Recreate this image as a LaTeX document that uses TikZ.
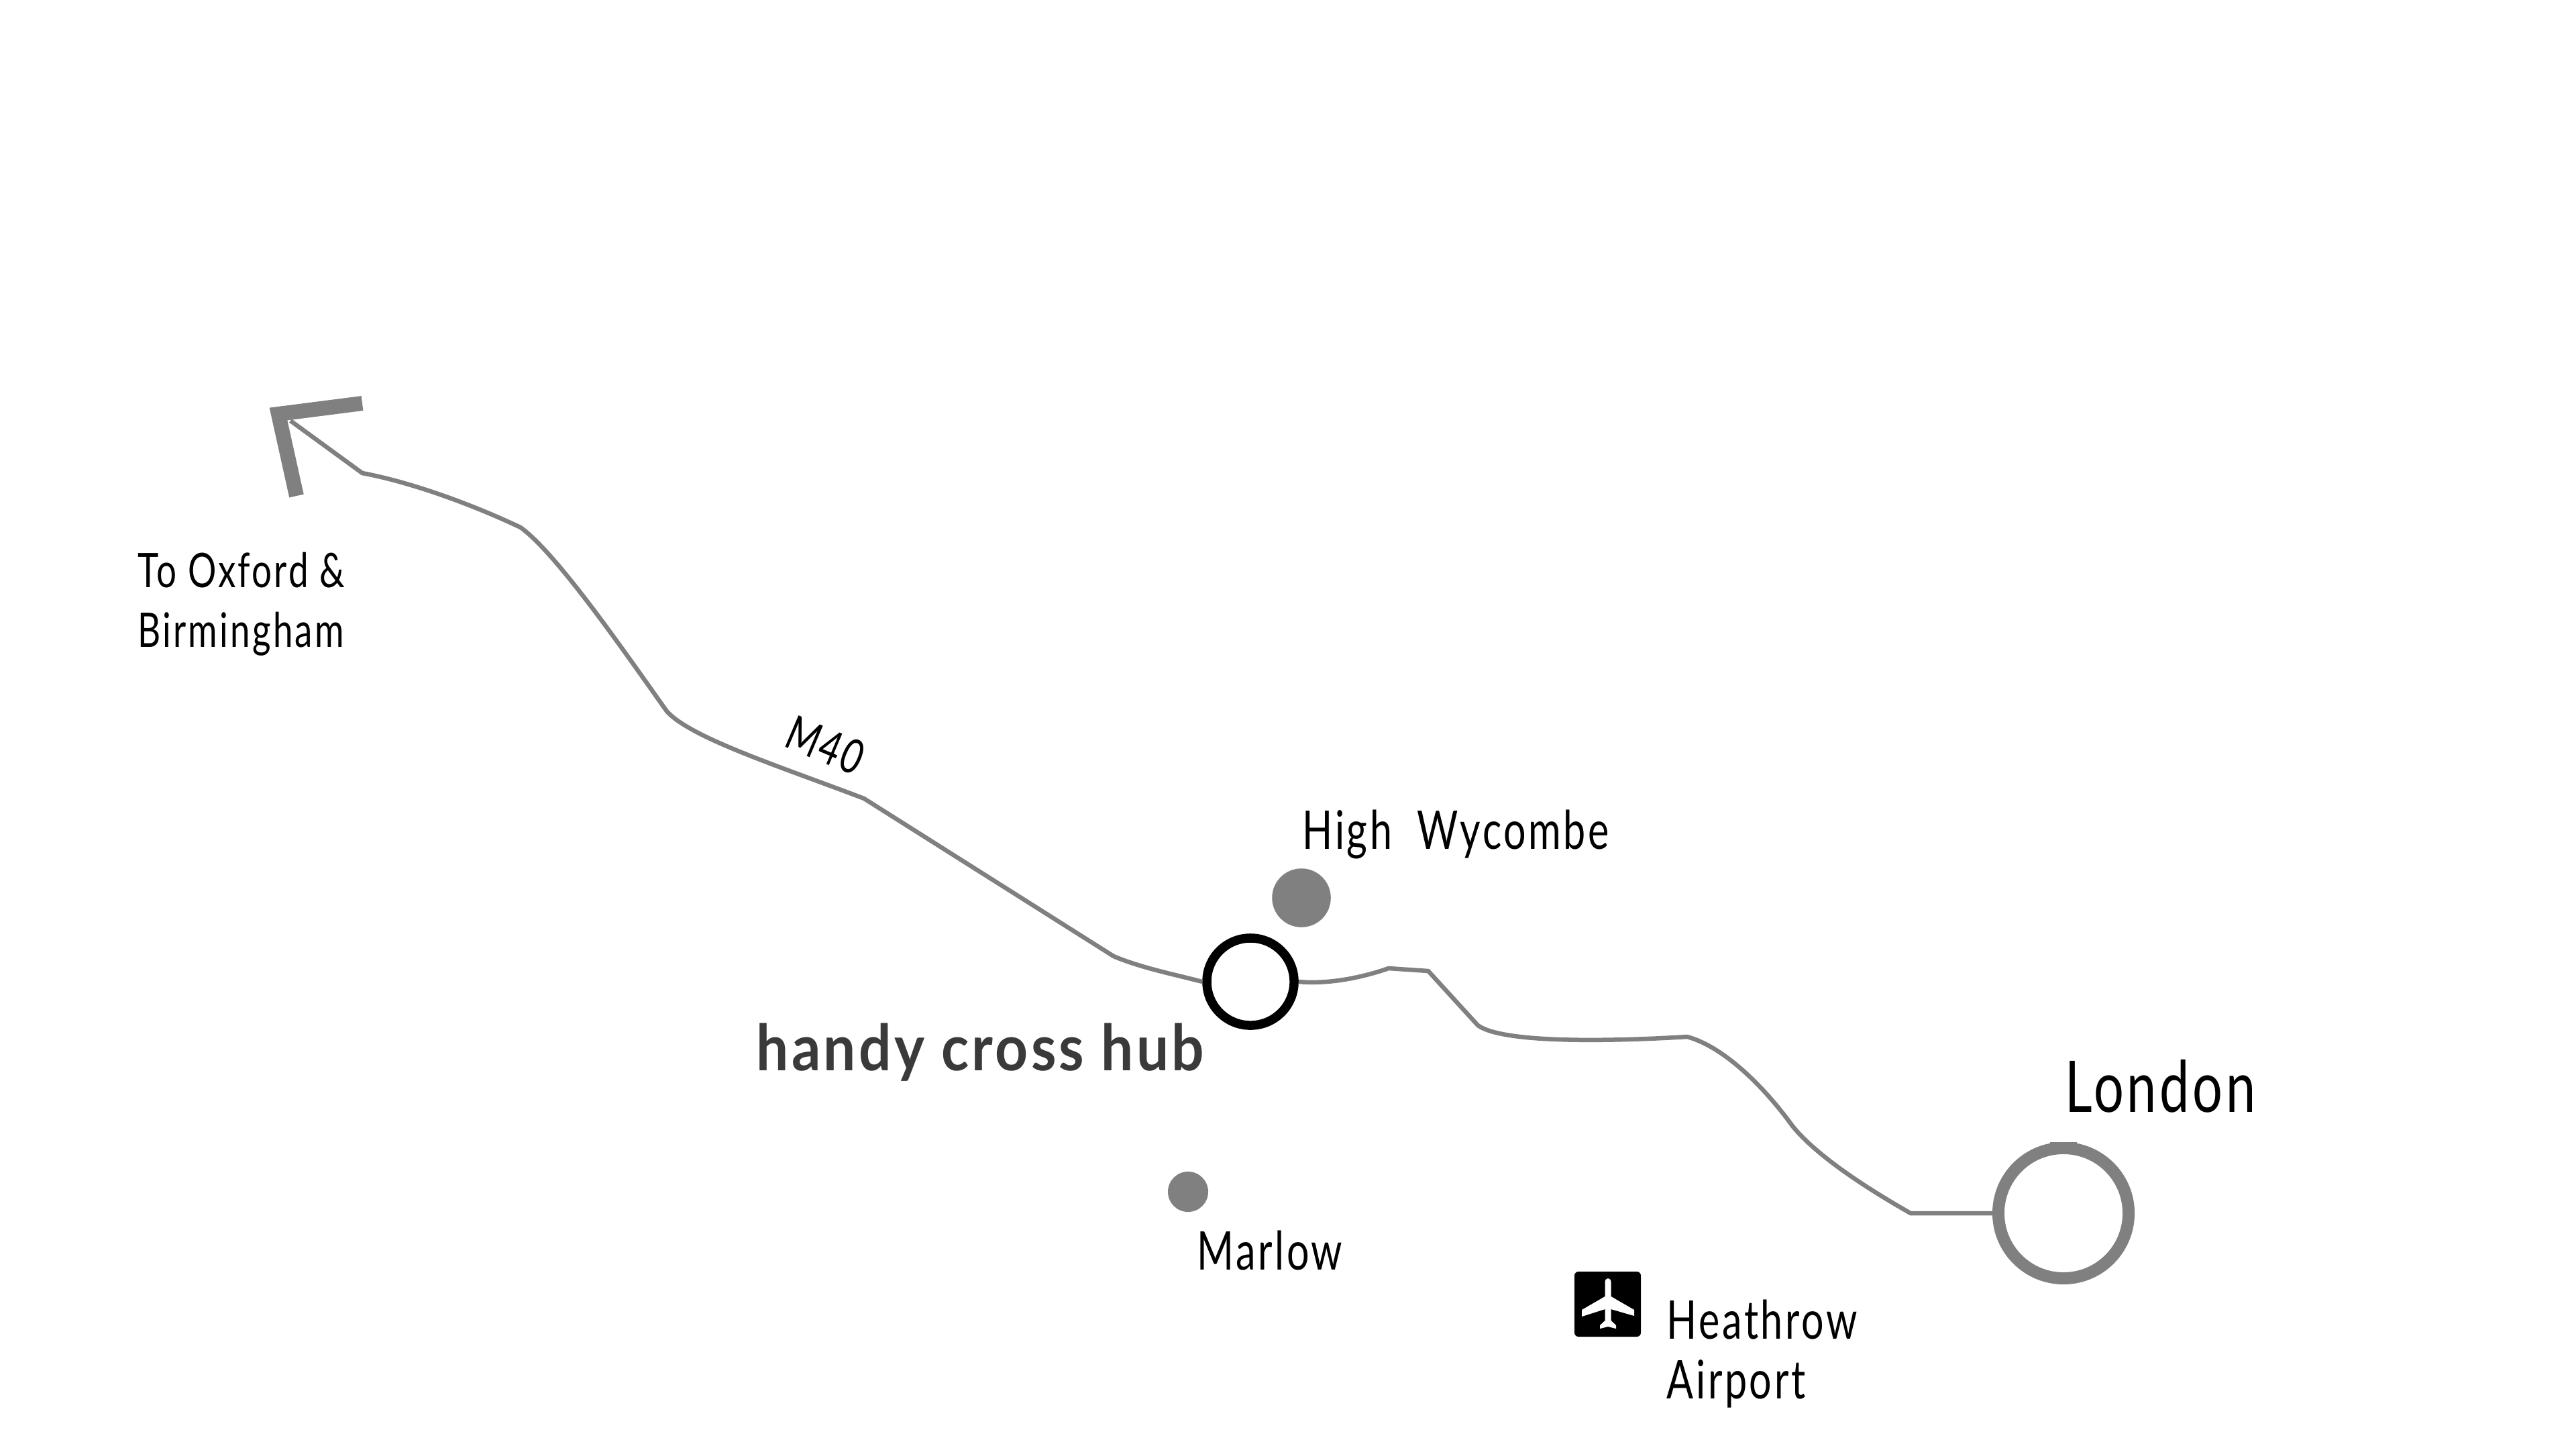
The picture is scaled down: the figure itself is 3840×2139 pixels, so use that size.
\documentclass[tikz,border=0pt]{standalone}
\usepackage{fontspec}
\newfontfamily\placefont[FakeStretch=0.745,LetterSpace=4.5]{Lato}
\newfontfamily\hubfont[FakeStretch=0.9,LetterSpace=4.5]{Lato Bold}
\definecolor{roadgray}{HTML}{808080}
\definecolor{hubgray}{HTML}{3A3A3A}
\tikzset{
  road/.style={roadgray,line width=0.065cm},
  place/.style={inner sep=0pt,anchor=base west,font=\placefont\fontsize{22.6}{26}\selectfont},
  smallplace/.style={place,font=\placefont\fontsize{20.2}{24}\selectfont},
  town/.style={circle,fill=roadgray,inner sep=0pt},
}
\begin{document}
\begin{tikzpicture}[x=0.01cm,y=-0.01cm]
\useasboundingbox (0,0) rectangle (3840,2139);
% hubs and towns
\node[circle,draw=black,line width=0.135cm,fill=white,inner sep=0pt,minimum size=1.3cm] (hub) at (1864,1463) {};
\node[circle,draw=roadgray,line width=0.18cm,fill=white,inner sep=0pt,minimum size=1.94cm] (london) at (3076,1808) {};
\node[town,minimum size=0.875cm] (wycombe) at (1940,1338) {};
\node[town,minimum size=0.6cm] (marlow) at (1771,1776) {};
% road
\coordinate (tip) at (433,627);
\draw[road] (tip) -- (540,705)
  .. controls (610,718) and (700,750) .. (776,786)
  .. controls (830,825) and (930,970) .. (994,1060)
  .. controls (1030,1100) and (1165,1143) .. (1288,1190)
  -- (1660,1425)
  .. controls (1700,1442) and (1750,1452) .. (hub.west);
\draw[road] (hub.east)
  .. controls (1980,1467) and (2030,1457) .. (2070,1443)
  -- (2129,1447) -- (2203,1528)
  .. controls (2240,1555) and (2400,1552) .. (2515,1545)
  .. controls (2570,1560) and (2630,1620) .. (2672,1678)
  .. controls (2710,1725) and (2790,1775) .. (2848,1808)
  -- (london.west);
\draw[road] (3056,1705) -- (3096,1705);
% arrow head
\coordinate (arrowtop) at (540,601);
\coordinate (arrowbot) at (442,739);
\draw[roadgray,line width=0.22cm] (arrowtop) -- (415,617) -- (arrowbot);
% labels
\node[smallplace] (oxford) at (205,875) {To Oxford \&};
\node[smallplace] (birmingham) at (205,964) {Birmingham};
\node[smallplace,rotate=-23] (mforty) at (1166,1111) {M40};
\node[place] (wycombetext) at (1941,1265) {High\ \ Wycombe};
\node[inner sep=0pt,anchor=base west,text=hubgray,font=\hubfont\fontsize{27}{31}\selectfont] (hubtext) at (1127,1595) {handy cross hub};
\node[place] (marlowtext) at (1784,1892) {Marlow};
\node[place] (heathrow) at (2484,1995) {Heathrow};
\node[place] (airport) at (2484,2084) {Airport};
\node[inner sep=0pt,anchor=base west,font=\placefont\fontsize{30.2}{34}\selectfont] (londontext) at (3078,1657) {London};
% airport sign
\fill[black,rounded corners=0.06cm] (2347,1895) rectangle (2446,1992);
\fill[white] (2392.5,1945) -- (2392.5,1911) .. controls (2392.5,1903) and (2401.5,1903) .. (2401.5,1911)
  -- (2401.5,1932) -- (2436,1952) -- (2436,1961) -- (2401.5,1951) -- (2401.5,1968) -- (2409,1975) -- (2409,1980)
  -- (2397,1977) -- (2385,1980) -- (2385,1975) -- (2392.5,1968) -- (2392.5,1951) -- (2358,1962) -- (2358,1952) -- (2392.5,1932) -- cycle;
\end{tikzpicture}
\end{document}
